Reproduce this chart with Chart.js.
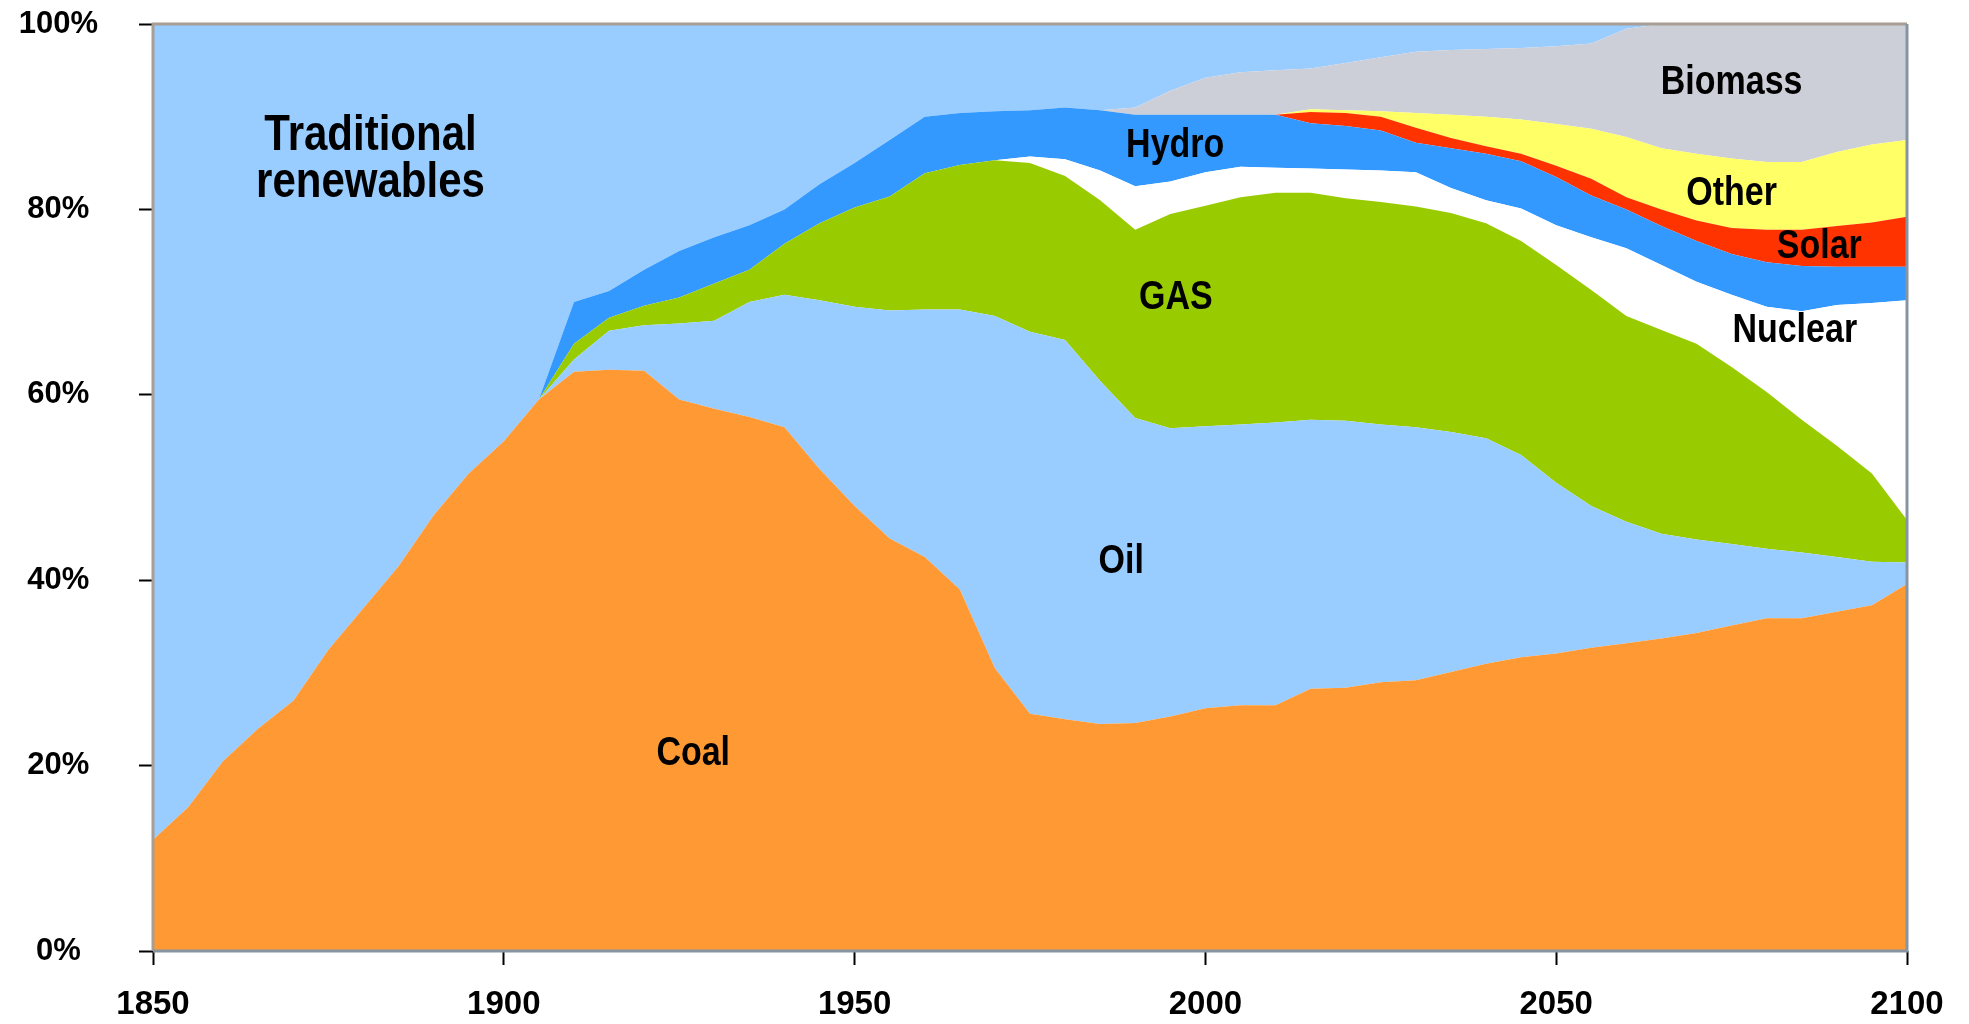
<!DOCTYPE html>
<html>
<head>
<meta charset="utf-8">
<title>World primary energy mix 1850-2100</title>
<script src="https://cdn.jsdelivr.net/npm/chart.js@4.4.1/dist/chart.umd.min.js"></script>
<style>
  html, body { margin: 0; padding: 0; background: #fff; }
  canvas { display: block; }
</style>
</head>
<body>
<canvas id="mixChart" width="1969" height="1024"></canvas>
<script>
// years on the x axis
const years = [
  1850, 1855, 1860, 1865, 1870, 1875, 1880, 1885, 1890, 1895,
  1900, 1905, 1910, 1915, 1920, 1925, 1930, 1935, 1940, 1945,
  1950, 1955, 1960, 1965, 1970, 1975, 1980, 1985, 1990, 1995,
  2000, 2005, 2010, 2015, 2020, 2025, 2030, 2035, 2040, 2045,
  2050, 2055, 2060, 2065, 2070, 2075, 2080, 2085, 2090, 2095,
  2100
];

// upper edge of each layer, cumulative share in %
const coalTop = [
  12, 15.5, 20.5, 24, 27, 32.5, 37, 41.5, 47, 51.5,
  55, 59.5, 62.5, 62.7, 62.6, 59.5, 58.5, 57.6, 56.5, 52,
  48, 44.5, 42.5, 39, 30.5, 25.6, 25, 24.5, 24.6, 25.3,
  26.2, 26.5, 26.5, 28.3, 28.4, 29, 29.2, 30.1, 31, 31.7,
  32.1, 32.7, 33.2, 33.7, 34.3, 35.1, 35.9, 35.9, 36.6, 37.3,
  39.6
];
const oilTop = [
  12, 15.5, 20.5, 24, 27, 32.5, 37, 41.5, 47, 51.5,
  55, 59.5, 63.8, 66.9, 67.5, 67.7, 68, 70, 70.8, 70.2,
  69.5, 69.1, 69.2, 69.2, 68.5, 66.8, 65.9, 61.5, 57.5, 56.4,
  56.6, 56.8, 57, 57.3, 57.2, 56.8, 56.5, 56, 55.3, 53.5,
  50.5, 48, 46.3, 45, 44.4, 43.9, 43.4, 43, 42.5, 42,
  41.9
];
const gasTop = [
  12, 15.5, 20.5, 24, 27, 32.5, 37, 41.5, 47, 51.5,
  55, 59.5, 65.5, 68.3, 69.6, 70.5, 72, 73.5, 76.3, 78.5,
  80.2, 81.4, 83.9, 84.8, 85.3, 85, 83.6, 81, 77.8, 79.5,
  80.4, 81.3, 81.8, 81.8, 81.2, 80.8, 80.3, 79.6, 78.5, 76.6,
  74, 71.3, 68.5, 67, 65.5, 63, 60.3, 57.3, 54.5, 51.5,
  46.5
];
const nuclearTop = [
  12, 15.5, 20.5, 24, 27, 32.5, 37, 41.5, 47, 51.5,
  55, 59.5, 65.5, 68.3, 69.6, 70.5, 72, 73.5, 76.3, 78.5,
  80.2, 81.4, 83.9, 84.8, 85.3, 85.7, 85.4, 84.2, 82.5, 83,
  84, 84.6, 84.5, 84.4, 84.3, 84.2, 84, 82.3, 81, 80.1,
  78.3, 77, 75.8, 74, 72.2, 70.8, 69.5, 69, 69.7, 69.9,
  70.2
];
const hydroTop = [
  12, 15.5, 20.5, 24, 27, 32.5, 37, 41.5, 47, 51.5,
  55, 59.5, 70, 71.2, 73.5, 75.5, 77, 78.3, 80, 82.7,
  85, 87.5, 90, 90.4, 90.6, 90.7, 91, 90.7, 90.2, 90.2,
  90.2, 90.2, 90.2, 89.3, 89, 88.5, 87.2, 86.6, 86, 85.2,
  83.5, 81.5, 80, 78.2, 76.6, 75.2, 74.3, 73.9, 73.8, 73.8,
  73.8
];
const solarTop = [
  12, 15.5, 20.5, 24, 27, 32.5, 37, 41.5, 47, 51.5,
  55, 59.5, 70, 71.2, 73.5, 75.5, 77, 78.3, 80, 82.7,
  85, 87.5, 90, 90.4, 90.6, 90.7, 91, 90.7, 90.2, 90.2,
  90.2, 90.2, 90.2, 90.5, 90.4, 90, 88.8, 87.7, 86.8, 86,
  84.7, 83.3, 81.3, 80, 78.8, 78, 77.8, 77.8, 78.2, 78.6,
  79.2
];
const otherTop = [
  12, 15.5, 20.5, 24, 27, 32.5, 37, 41.5, 47, 51.5,
  55, 59.5, 70, 71.2, 73.5, 75.5, 77, 78.3, 80, 82.7,
  85, 87.5, 90, 90.4, 90.6, 90.7, 91, 90.7, 90.2, 90.2,
  90.2, 90.2, 90.2, 90.8, 90.7, 90.6, 90.4, 90.2, 90, 89.7,
  89.2, 88.7, 87.8, 86.6, 86, 85.5, 85.1, 85.1, 86.2, 87,
  87.5
];
const biomassTop = [
  12, 15.5, 20.5, 24, 27, 32.5, 37, 41.5, 47, 51.5,
  55, 59.5, 70, 71.2, 73.5, 75.5, 77, 78.3, 80, 82.7,
  85, 87.5, 90, 90.4, 90.6, 90.7, 91, 90.7, 91, 92.8,
  94.2, 94.8, 95, 95.2, 95.8, 96.4, 97, 97.2, 97.3, 97.4,
  97.6, 97.9, 99.5, 100, 100, 100, 100, 100, 100, 100,
  100
];
const traditionalTop = [
  100, 100, 100, 100, 100, 100, 100, 100, 100, 100,
  100, 100, 100, 100, 100, 100, 100, 100, 100, 100,
  100, 100, 100, 100, 100, 100, 100, 100, 100, 100,
  100, 100, 100, 100, 100, 100, 100, 100, 100, 100,
  100, 100, 100, 100, 100, 100, 100, 100, 100, 100,
  100
];

const xTicks = [1850, 1900, 1950, 2000, 2050, 2100];
const yTicks = [0, 20, 40, 60, 80, 100];

const FONT = '"Liberation Sans", Arial, sans-serif';

function layer(label, values, color, fill) {
    return {
        label: label,
        data: years.map((y, i) => ({ x: y, y: values[i] })),
        backgroundColor: color,
        borderColor: 'rgba(0,0,0,0)',
        borderWidth: 0,
        pointRadius: 0,
        tension: 0,
        fill: fill
    };
}

// text written on the areas, placed in data coordinates
const areaLabels = [
    { text: 'Traditional', x: 1881, y: 87.9, size: 42 },
    { text: 'renewables', x: 1881, y: 82.8, size: 42 },
    { text: 'Hydro', x: 1995.7, y: 86.8, size: 34 },
    { text: 'GAS', x: 1995.8, y: 70.4, size: 34 },
    { text: 'Oil', x: 1988, y: 42, size: 34 },
    { text: 'Coal', x: 1927, y: 21.3, size: 34 },
    { text: 'Biomass', x: 2075, y: 93.6, size: 34 },
    { text: 'Other', x: 2075, y: 81.7, size: 34 },
    { text: 'Solar', x: 2087.5, y: 75.9, size: 34 },
    { text: 'Nuclear', x: 2084, y: 66.9, size: 34 }
];

const labelPlugin = {
    id: 'areaLabels',
    afterDatasetsDraw(chart) {
        const ctx = chart.ctx;
        const xs = chart.scales.x, ys = chart.scales.y;
        ctx.save();
        ctx.fillStyle = '#000';
        ctx.textAlign = 'center';
        ctx.textBaseline = 'middle';
        areaLabels.forEach(l => {
            ctx.save();
            ctx.translate(xs.getPixelForValue(l.x), ys.getPixelForValue(l.y));
            ctx.scale(1, 1.18);
            ctx.font = 'bold ' + l.size + 'px ' + FONT;
            ctx.fillText(l.text, 0, 0);
            ctx.restore();
        });
        ctx.restore();
    }
};

// frame round the plot area
const framePlugin = {
    id: 'frame',
    afterDatasetsDraw(chart) {
        const { left, right, top, bottom } = chart.chartArea;
        const ctx = chart.ctx;
        ctx.save();
        ctx.lineWidth = 3;
        ctx.strokeStyle = '#a89e94';
        ctx.beginPath();
        ctx.moveTo(left, bottom);
        ctx.lineTo(left, top);
        ctx.lineTo(right, top);
        ctx.stroke();
        ctx.strokeStyle = '#8795a3';
        ctx.beginPath();
        ctx.moveTo(right, top);
        ctx.lineTo(right, bottom);
        ctx.lineTo(left, bottom);
        ctx.stroke();
        ctx.restore();
    }
};

new Chart(document.getElementById('mixChart'), {
    type: 'line',
    data: {
        datasets: [
            layer('Coal', coalTop, '#ff9933', 'origin'),
            layer('Oil', oilTop, '#99ccff', '-1'),
            layer('Gas', gasTop, '#99cc00', '-1'),
            layer('Nuclear', nuclearTop, '#ffffff', '-1'),
            layer('Hydro', hydroTop, '#3399ff', '-1'),
            layer('Solar', solarTop, '#ff3300', '-1'),
            layer('Other', otherTop, '#ffff66', '-1'),
            layer('Biomass', biomassTop, '#cdcfd8', '-1'),
            layer('Traditional renewables', traditionalTop, '#99ccff', '-1')
        ]
    },
    options: {
        responsive: false,
        animation: false,
        devicePixelRatio: 1,
        layout: { padding: { left: 0, top: 24, right: 62, bottom: 0 } },
        plugins: {
            legend: { display: false },
            tooltip: { enabled: false }
        },
        scales: {
            x: {
                type: 'linear',
                min: 1850,
                max: 2100,
                afterFit: s => {
                    s.height = 73;
                    s.paddingLeft = 0;
                    s.paddingRight = 0;
                },
                afterBuildTicks: s => { s.ticks = xTicks.map(v => ({ value: v })); },
                border: { display: false },
                grid: {
                    drawOnChartArea: false,
                    tickLength: 14,
                    tickWidth: 2,
                    tickColor: '#000'
                },
                ticks: {
                    color: '#000',
                    padding: 20,
                    maxRotation: 0,
                    font: { family: FONT, size: 33, weight: 'bold' },
                    callback: v => String(v)
                }
            },
            y: {
                min: 0,
                max: 100,
                afterFit: s => {
                    s.width = 153;
                    s.paddingTop = 0;
                    s.paddingBottom = 0;
                },
                afterBuildTicks: s => { s.ticks = yTicks.map(v => ({ value: v })); },
                border: { display: false },
                grid: {
                    drawOnChartArea: false,
                    tickLength: 14,
                    tickWidth: 2,
                    tickColor: '#000'
                },
                ticks: {
                    color: '#000',
                    padding: 41,
                    crossAlign: 'center',
                    font: { family: FONT, size: 31, weight: 'bold' },
                    callback: v => v + '%'
                }
            }
        }
    },
    plugins: [labelPlugin, framePlugin]
});
</script>
</body>
</html>
